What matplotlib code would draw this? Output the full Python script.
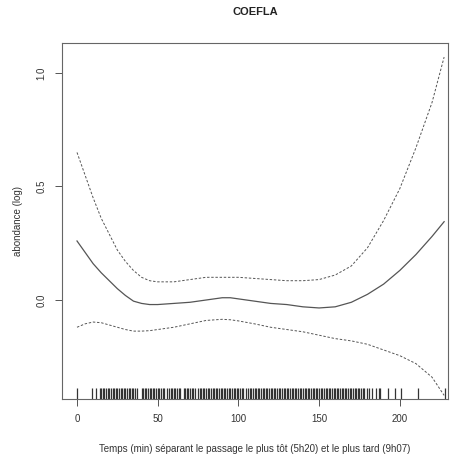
import numpy as np
import matplotlib
matplotlib.use('Agg')
import matplotlib.pyplot as plt
import matplotlib.transforms as mtransforms

plt.rcParams['font.family'] = ['Liberation Sans', 'DejaVu Sans']

# smooth term (GAM-style) and its +/- 2 SE band
temps = [0, 5, 10, 15, 20, 25, 30, 35, 40, 45, 50, 60, 70, 80, 90, 95, 100,
         110, 120, 130, 140, 150, 160, 170, 180, 190, 200, 210, 220, 227.5]
fit = [0.26, 0.21, 0.16, 0.12, 0.085, 0.05, 0.02, -0.005, -0.015, -0.02, -0.02,
       -0.015, -0.01, 0.0, 0.01, 0.01, 0.005, -0.005, -0.015, -0.02, -0.03,
       -0.035, -0.03, -0.01, 0.025, 0.07, 0.13, 0.2, 0.28, 0.345]
upper = [0.65, 0.55, 0.45, 0.36, 0.29, 0.22, 0.17, 0.13, 0.10, 0.085, 0.08,
         0.08, 0.09, 0.10, 0.10, 0.10, 0.10, 0.095, 0.09, 0.085, 0.085, 0.09,
         0.11, 0.15, 0.23, 0.35, 0.49, 0.67, 0.87, 1.07]
lower = [-0.12, -0.105, -0.097, -0.10, -0.11, -0.12, -0.13, -0.137, -0.137,
         -0.135, -0.13, -0.12, -0.105, -0.09, -0.085, -0.087, -0.092, -0.105,
         -0.12, -0.13, -0.14, -0.155, -0.17, -0.18, -0.195, -0.22, -0.245,
         -0.28, -0.34, -0.42]

# observed times (rug)
rug_x = [0, 9, 12, 14, 15, 16, 17, 18, 19, 20, 21, 22, 23, 24, 25, 26, 27, 28,
         29, 30, 31, 32, 33, 34, 35, 36, 37, 40, 41, 42, 43, 44, 45, 46, 47, 48,
         49, 50, 51, 52, 53, 54, 56, 57, 58, 59, 60, 61, 62, 63, 64, 66, 67, 68,
         69, 70, 71, 72, 73, 75, 76, 77, 78, 79, 80, 81, 82, 83, 84, 85, 86, 87,
         88, 89, 90, 91, 92, 93, 94, 95, 96, 97, 98, 99, 100, 101, 102, 103, 105,
         106, 107, 108, 109, 110, 111, 112, 113, 114, 115, 116, 117, 118, 119,
         120, 121, 122, 123, 124, 125, 126, 127, 128, 129, 130, 131, 132, 133,
         134, 135, 136, 137, 138, 139, 140, 141, 142, 143, 144, 145, 146, 147,
         148, 149, 150, 151, 152, 153, 154, 155, 156, 157, 158, 159, 160, 161,
         162, 163, 164, 165, 166, 167, 168, 169, 170, 171, 172, 173, 174, 175,
         176, 177, 178, 180, 181, 183, 185, 187, 188, 193, 197, 201, 211, 228]

x_ticks = [0, 50, 100, 150, 200]
y_ticks = [0.0, 0.5, 1.0]

fig = plt.figure(figsize=(4.53, 4.57), dpi=100)
ax = fig.add_axes([62/453, 1 - 399/457, (448 - 62)/453, (399 - 43)/457])

line_col = '#555555'
ax.plot(temps, fit, color=line_col, lw=0.9)
ax.plot(temps, upper, color=line_col, lw=0.7, dashes=(2.5, 1.8))
ax.plot(temps, lower, color=line_col, lw=0.7, dashes=(2.5, 1.8))

# rug along the bottom edge
trans = mtransforms.blended_transform_factory(ax.transData, ax.transAxes)
ax.vlines(rug_x, 0, 0.032, transform=trans, color='#333333', lw=0.9)

ax.set_xlim(-9.3, 229.9)
ax.set_ylim(-0.436, 1.132)
ax.set_xticks(x_ticks)
ax.set_yticks(y_ticks)
ax.set_yticklabels([f'{v:.1f}' for v in y_ticks], rotation=90, va='center')
ax.tick_params(labelsize=7, colors='#555555', labelcolor='#333333',
               length=5, width=0.7, pad=6)
for s in ax.spines.values():
    s.set_color('#666666')
    s.set_linewidth(0.8)

ax.set_xlabel('Temps (min) séparant le passage le plus tôt (5h20) et le plus tard (9h07)',
              fontsize=7, color='#333333', labelpad=14)
ax.set_ylabel('abondance (log)', fontsize=7, color='#333333', labelpad=10)
fig.text(255/453, 1 - 12/457, 'COEFLA', ha='center', va='center',
         fontsize=8, fontweight='bold', color='#222222')

fig.savefig('out.png', dpi=100)
